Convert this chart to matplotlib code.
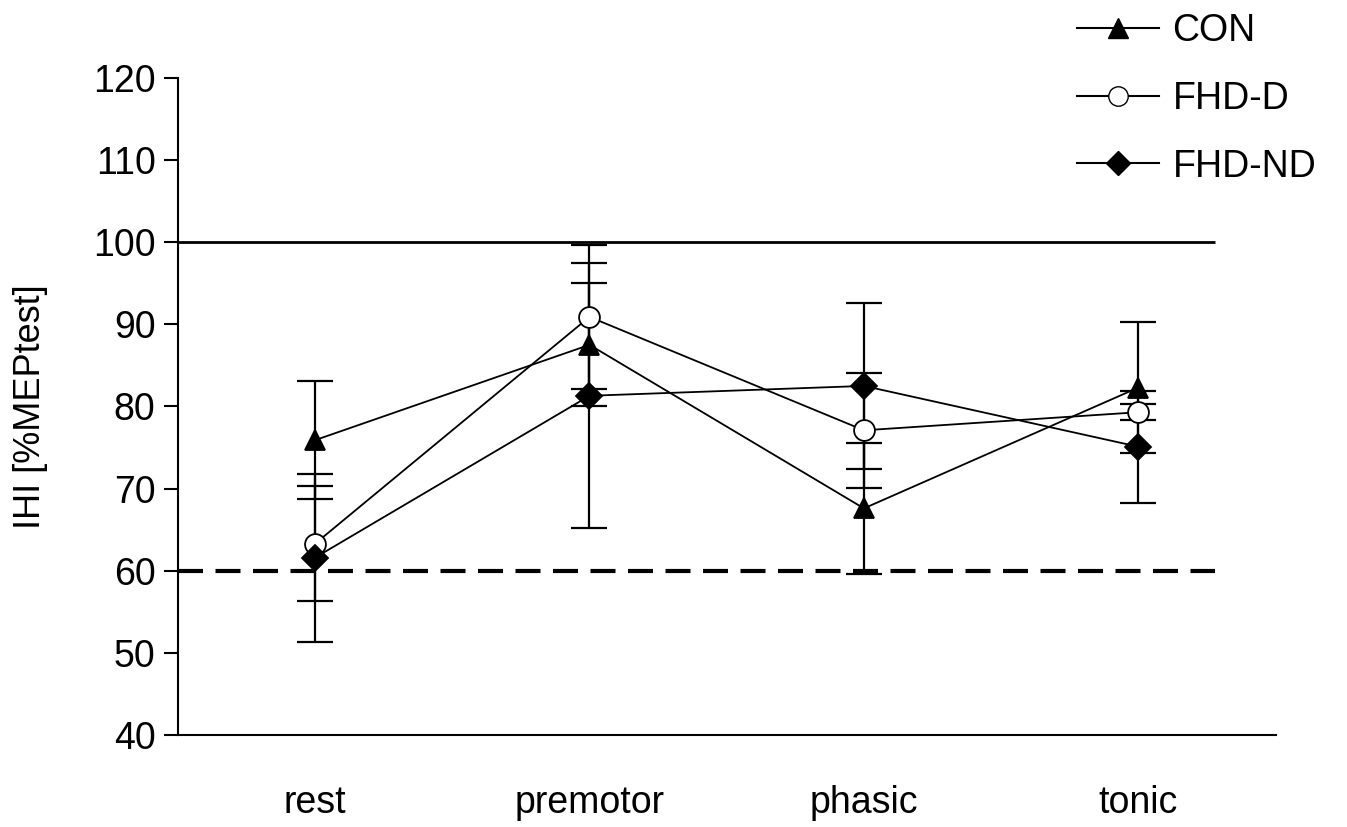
import numpy as np
import matplotlib.pyplot as plt
from matplotlib.lines import Line2D

plt.rcParams['font.family'] = ['Liberation Sans', 'DejaVu Sans']

conditions = ['rest', 'premotor', 'phasic', 'tonic']

con_mean = [75.9, 87.5, 67.6, 82.3]
con_err = [7.2, 7.5, 8.0, 8.0]
fhd_d_mean = [63.3, 90.9, 77.1, 79.3]
fhd_d_err = [7.0, 8.8, 7.0, 1.0]
fhd_nd_mean = [61.6, 81.3, 82.5, 75.1]
fhd_nd_err = [10.2, 16.1, 10.1, 6.8]

ref_solid = 100
ref_dashed = 60

x = np.arange(len(conditions))

fig = plt.figure(figsize=(13.47, 8.27), dpi=100)
ax = fig.add_axes([0.132, 0.111, 0.815, 0.795])

ax.hlines(ref_solid, -0.5, 3.28, color='black', lw=2.0, zorder=1)
ax.hlines(ref_dashed, -0.5, 3.28, color='black', lw=3.0, linestyles=(0, (6, 3)), zorder=1)

series = [
    (con_mean, con_err, '^', 'black', 15, 'CON'),
    (fhd_d_mean, fhd_d_err, 'o', 'white', 15, 'FHD-D'),
    (fhd_nd_mean, fhd_nd_err, 'D', 'black', 13, 'FHD-ND'),
]

for mean, err, mk, fc, ms, label in series:
    ax.errorbar(x, mean, yerr=err, fmt='none', ecolor='black', elinewidth=1.6,
                capsize=13, capthick=1.6, zorder=2)
    ax.plot(x, mean, color='black', lw=1.3, marker=mk, markersize=ms,
            markerfacecolor=fc, markeredgecolor='black', markeredgewidth=1.3,
            zorder=3)

ax.set_xlim(-0.5, 3.5)
ax.set_ylim(40, 120)
ax.set_yticks(np.arange(40, 121, 10))
ax.set_xticks(x)
ax.set_xticklabels(conditions)
ax.tick_params(axis='x', length=0, pad=36, labelsize=27)
ax.tick_params(axis='y', length=10, width=1.5, pad=6, labelsize=27)
for s in ['top', 'right']:
    ax.spines[s].set_visible(False)
ax.spines['left'].set_linewidth(1.5)
ax.spines['bottom'].set_linewidth(1.5)

ax.set_ylabel('IHI [%MEPtest]', fontsize=26)
ax.yaxis.set_label_coords(-0.118, 0.5)

handles = [
    Line2D([], [], color='black', lw=1.5, marker='^', markersize=14,
           markerfacecolor='black', markeredgecolor='black'),
    Line2D([], [], color='black', lw=1.5, marker='o', markersize=14,
           markerfacecolor='white', markeredgecolor='black'),
    Line2D([], [], color='black', lw=1.5, marker='D', markersize=12,
           markerfacecolor='black', markeredgecolor='black'),
]
fig.legend(handles, ['CON', 'FHD-D', 'FHD-ND'], loc='upper left',
           bbox_to_anchor=(1058 / 1347, 1 + 6 / 827), frameon=False,
           fontsize=27, handlelength=2.2, handletextpad=0.35, borderpad=0,
           labelspacing=0.85)

fig.savefig('out.png', dpi=100)
